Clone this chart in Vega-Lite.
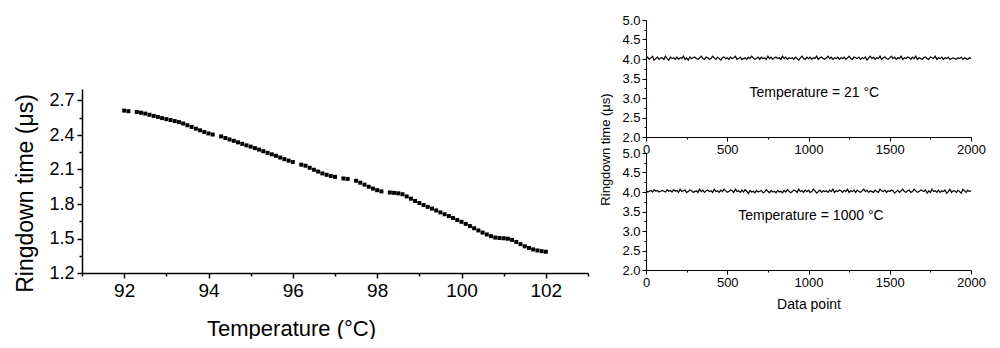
{
  "$schema": "https://vega.github.io/schema/vega-lite/v6.json",
  "padding": {"left": 13, "top": 14, "right": 5, "bottom": 0},
  "background": "white",
  "config": {
    "font": "Liberation Sans",
    "view": {"stroke": null},
    "axis": {"grid": false, "domainColor": "black", "tickColor": "black", "labelColor": "black", "titleColor": "black", "titleFontWeight": "normal", "labelFlush": false, "labelOverlap": false}
  },
  "datasets": {
    "curve": [
      {"t": 92.0, "r": 2.612}, {"t": 92.1, "r": 2.607}, {"t": 92.3, "r": 2.600}, {"t": 92.4, "r": 2.594}, {"t": 92.5, "r": 2.586},
      {"t": 92.6, "r": 2.576}, {"t": 92.7, "r": 2.566}, {"t": 92.8, "r": 2.557}, {"t": 92.9, "r": 2.547}, {"t": 93.0, "r": 2.538},
      {"t": 93.1, "r": 2.530}, {"t": 93.2, "r": 2.521}, {"t": 93.3, "r": 2.512}, {"t": 93.4, "r": 2.500}, {"t": 93.5, "r": 2.485},
      {"t": 93.6, "r": 2.470}, {"t": 93.7, "r": 2.455}, {"t": 93.8, "r": 2.441}, {"t": 93.9, "r": 2.426}, {"t": 94.0, "r": 2.413},
      {"t": 94.1, "r": 2.404}, {"t": 94.3, "r": 2.388}, {"t": 94.4, "r": 2.374}, {"t": 94.5, "r": 2.361}, {"t": 94.6, "r": 2.349},
      {"t": 94.7, "r": 2.336}, {"t": 94.8, "r": 2.323}, {"t": 94.9, "r": 2.310}, {"t": 95.0, "r": 2.299}, {"t": 95.1, "r": 2.286},
      {"t": 95.2, "r": 2.273}, {"t": 95.3, "r": 2.259}, {"t": 95.4, "r": 2.245}, {"t": 95.5, "r": 2.232}, {"t": 95.6, "r": 2.219},
      {"t": 95.7, "r": 2.204}, {"t": 95.8, "r": 2.190}, {"t": 95.9, "r": 2.177}, {"t": 96.0, "r": 2.165}, {"t": 96.2, "r": 2.142},
      {"t": 96.3, "r": 2.133}, {"t": 96.4, "r": 2.115}, {"t": 96.5, "r": 2.098}, {"t": 96.6, "r": 2.082}, {"t": 96.7, "r": 2.066},
      {"t": 96.8, "r": 2.054}, {"t": 96.9, "r": 2.044}, {"t": 97.0, "r": 2.036}, {"t": 97.2, "r": 2.022}, {"t": 97.3, "r": 2.018},
      {"t": 97.5, "r": 2.002}, {"t": 97.6, "r": 1.985}, {"t": 97.7, "r": 1.968}, {"t": 97.8, "r": 1.950}, {"t": 97.9, "r": 1.934},
      {"t": 98.0, "r": 1.920}, {"t": 98.1, "r": 1.910}, {"t": 98.3, "r": 1.900}, {"t": 98.4, "r": 1.897}, {"t": 98.5, "r": 1.893},
      {"t": 98.6, "r": 1.885}, {"t": 98.7, "r": 1.866}, {"t": 98.8, "r": 1.846}, {"t": 98.9, "r": 1.826}, {"t": 99.0, "r": 1.808},
      {"t": 99.1, "r": 1.791}, {"t": 99.2, "r": 1.775}, {"t": 99.3, "r": 1.760}, {"t": 99.4, "r": 1.744}, {"t": 99.5, "r": 1.727},
      {"t": 99.6, "r": 1.711}, {"t": 99.7, "r": 1.695}, {"t": 99.8, "r": 1.678}, {"t": 99.9, "r": 1.661}, {"t": 100.0, "r": 1.645},
      {"t": 100.1, "r": 1.627}, {"t": 100.2, "r": 1.608}, {"t": 100.3, "r": 1.589}, {"t": 100.4, "r": 1.570}, {"t": 100.5, "r": 1.552},
      {"t": 100.6, "r": 1.535}, {"t": 100.7, "r": 1.520}, {"t": 100.8, "r": 1.508}, {"t": 100.9, "r": 1.504}, {"t": 101.0, "r": 1.502},
      {"t": 101.1, "r": 1.498}, {"t": 101.2, "r": 1.488}, {"t": 101.3, "r": 1.470}, {"t": 101.4, "r": 1.451}, {"t": 101.5, "r": 1.432},
      {"t": 101.6, "r": 1.417}, {"t": 101.7, "r": 1.405}, {"t": 101.8, "r": 1.396}, {"t": 101.9, "r": 1.390}, {"t": 102.0, "r": 1.385}
    ],
    "noise": [
      {"i":0,"a":4.01,"b":4.04},{"i":10,"a":4.05,"b":4.00},{"i":20,"a":3.99,"b":4.02},{"i":30,"a":4.03,"b":4.04},{"i":40,"a":4.07,"b":4.00},{"i":50,"a":3.97,"b":4.06},{"i":60,"a":4.01,"b":4.02},{"i":70,"a":4.05,"b":4.04},{"i":80,"a":3.99,"b":4.00},{"i":90,"a":4.03,"b":4.02},
      {"i":100,"a":4.03,"b":4.04},{"i":110,"a":3.99,"b":4.02},{"i":120,"a":4.07,"b":4.00},{"i":130,"a":4.01,"b":4.06},{"i":140,"a":3.97,"b":4.02},{"i":150,"a":4.05,"b":4.04},{"i":160,"a":4.01,"b":4.00},{"i":170,"a":4.03,"b":4.06},{"i":180,"a":3.99,"b":4.02},{"i":190,"a":4.05,"b":4.04},
      {"i":200,"a":3.99,"b":3.99},{"i":210,"a":4.03,"b":4.07},{"i":220,"a":4.01,"b":4.01},{"i":230,"a":4.07,"b":4.03},{"i":240,"a":3.99,"b":4.05},{"i":250,"a":4.03,"b":3.99},{"i":260,"a":3.97,"b":4.01},{"i":270,"a":4.05,"b":4.05},{"i":280,"a":4.01,"b":4.03},{"i":290,"a":4.03,"b":3.99},
      {"i":300,"a":4.05,"b":4.01},{"i":310,"a":4.01,"b":4.03},{"i":320,"a":3.99,"b":3.99},{"i":330,"a":4.03,"b":4.07},{"i":340,"a":4.07,"b":4.01},{"i":350,"a":4.01,"b":4.05},{"i":360,"a":3.99,"b":3.99},{"i":370,"a":4.05,"b":4.03},{"i":380,"a":4.03,"b":4.05},{"i":390,"a":3.99,"b":4.01},
      {"i":400,"a":4.01,"b":4.03},{"i":410,"a":4.07,"b":3.99},{"i":420,"a":4.03,"b":4.07},{"i":430,"a":3.99,"b":4.01},{"i":440,"a":4.05,"b":4.03},{"i":450,"a":4.01,"b":3.99},{"i":460,"a":3.97,"b":4.05},{"i":470,"a":4.03,"b":4.01},{"i":480,"a":4.05,"b":4.07},{"i":490,"a":4.01,"b":4.03},
      {"i":500,"a":4.03,"b":3.99},{"i":510,"a":3.99,"b":4.01},{"i":520,"a":4.05,"b":4.05},{"i":530,"a":4.01,"b":4.03},{"i":540,"a":4.03,"b":3.99},{"i":550,"a":4.07,"b":4.07},{"i":560,"a":3.99,"b":4.01},{"i":570,"a":4.01,"b":4.03},{"i":580,"a":4.05,"b":3.99},{"i":590,"a":3.99,"b":4.05},
      {"i":600,"a":4.01,"b":4.00},{"i":610,"a":4.03,"b":4.06},{"i":620,"a":3.99,"b":4.02},{"i":630,"a":4.05,"b":3.96},{"i":640,"a":4.01,"b":4.04},{"i":650,"a":4.07,"b":4.00},{"i":660,"a":4.03,"b":4.02},{"i":670,"a":3.99,"b":3.98},{"i":680,"a":4.01,"b":4.04},{"i":690,"a":4.05,"b":4.00},
      {"i":700,"a":3.99,"b":4.02},{"i":710,"a":4.05,"b":4.04},{"i":720,"a":4.01,"b":3.98},{"i":730,"a":4.03,"b":4.00},{"i":740,"a":3.99,"b":4.06},{"i":750,"a":4.07,"b":4.02},{"i":760,"a":4.01,"b":3.98},{"i":770,"a":4.05,"b":4.04},{"i":780,"a":3.99,"b":4.00},{"i":790,"a":4.03,"b":4.02},
      {"i":800,"a":4.05,"b":3.98},{"i":810,"a":4.01,"b":4.04},{"i":820,"a":4.03,"b":4.00},{"i":830,"a":3.99,"b":4.02},{"i":840,"a":4.07,"b":3.98},{"i":850,"a":4.01,"b":4.04},{"i":860,"a":4.05,"b":4.00},{"i":870,"a":3.99,"b":4.06},{"i":880,"a":4.03,"b":4.02},{"i":890,"a":4.01,"b":3.98},
      {"i":900,"a":4.03,"b":4.01},{"i":910,"a":3.99,"b":4.05},{"i":920,"a":4.05,"b":4.03},{"i":930,"a":4.01,"b":3.99},{"i":940,"a":3.97,"b":4.07},{"i":950,"a":4.03,"b":4.01},{"i":960,"a":4.07,"b":4.03},{"i":970,"a":4.01,"b":3.99},{"i":980,"a":3.99,"b":4.05},{"i":990,"a":4.05,"b":4.01},
      {"i":1000,"a":4.01,"b":4.05},{"i":1010,"a":4.05,"b":3.99},{"i":1020,"a":3.99,"b":4.01},{"i":1030,"a":4.03,"b":4.07},{"i":1040,"a":4.01,"b":4.03},{"i":1050,"a":4.07,"b":3.97},{"i":1060,"a":3.99,"b":4.01},{"i":1070,"a":4.03,"b":4.05},{"i":1080,"a":4.05,"b":3.99},{"i":1090,"a":4.01,"b":4.03},
      {"i":1100,"a":3.99,"b":4.01},{"i":1110,"a":4.03,"b":4.03},{"i":1120,"a":4.07,"b":3.99},{"i":1130,"a":4.01,"b":4.05},{"i":1140,"a":4.05,"b":4.01},{"i":1150,"a":3.99,"b":4.07},{"i":1160,"a":4.03,"b":3.99},{"i":1170,"a":4.01,"b":4.03},{"i":1180,"a":4.05,"b":4.01},{"i":1190,"a":3.99,"b":4.05},
      {"i":1200,"a":4.03,"b":4.03},{"i":1210,"a":4.01,"b":3.99},{"i":1220,"a":4.05,"b":4.05},{"i":1230,"a":3.99,"b":4.01},{"i":1240,"a":4.03,"b":4.07},{"i":1250,"a":4.07,"b":3.99},{"i":1260,"a":4.01,"b":4.03},{"i":1270,"a":3.99,"b":4.01},{"i":1280,"a":4.05,"b":4.05},{"i":1290,"a":4.03,"b":3.99},
      {"i":1300,"a":4.01,"b":4.05},{"i":1310,"a":4.05,"b":4.01},{"i":1320,"a":3.99,"b":3.99},{"i":1330,"a":4.03,"b":4.03},{"i":1340,"a":4.01,"b":4.07},{"i":1350,"a":4.05,"b":4.01},{"i":1360,"a":3.97,"b":4.05},{"i":1370,"a":4.03,"b":3.99},{"i":1380,"a":4.07,"b":4.03},{"i":1390,"a":4.01,"b":4.01},
      {"i":1400,"a":4.05,"b":3.99},{"i":1410,"a":3.99,"b":4.05},{"i":1420,"a":4.03,"b":4.01},{"i":1430,"a":4.01,"b":3.99},{"i":1440,"a":4.07,"b":4.07},{"i":1450,"a":3.99,"b":4.03},{"i":1460,"a":4.03,"b":4.01},{"i":1470,"a":4.05,"b":4.05},{"i":1480,"a":4.01,"b":3.99},{"i":1490,"a":3.99,"b":4.03},
      {"i":1500,"a":4.03,"b":4.01},{"i":1510,"a":4.07,"b":4.05},{"i":1520,"a":4.01,"b":4.03},{"i":1530,"a":4.05,"b":3.97},{"i":1540,"a":3.99,"b":4.01},{"i":1550,"a":4.03,"b":4.05},{"i":1560,"a":4.01,"b":3.99},{"i":1570,"a":4.07,"b":4.03},{"i":1580,"a":3.99,"b":4.07},{"i":1590,"a":4.03,"b":4.01},
      {"i":1600,"a":4.01,"b":3.99},{"i":1610,"a":4.05,"b":4.03},{"i":1620,"a":4.03,"b":4.05},{"i":1630,"a":3.99,"b":3.99},{"i":1640,"a":4.05,"b":4.01},{"i":1650,"a":4.01,"b":4.07},{"i":1660,"a":4.07,"b":4.03},{"i":1670,"a":3.99,"b":3.99},{"i":1680,"a":4.03,"b":4.01},{"i":1690,"a":4.01,"b":4.05},
      {"i":1700,"a":3.99,"b":4.03},{"i":1710,"a":4.03,"b":4.01},{"i":1720,"a":4.05,"b":4.05},{"i":1730,"a":4.01,"b":3.97},{"i":1740,"a":3.99,"b":4.03},{"i":1750,"a":4.05,"b":3.99},{"i":1760,"a":4.03,"b":4.07},{"i":1770,"a":4.01,"b":4.01},{"i":1780,"a":4.07,"b":4.03},{"i":1790,"a":3.99,"b":3.99},
      {"i":1800,"a":4.03,"b":4.05},{"i":1810,"a":4.01,"b":3.99},{"i":1820,"a":4.05,"b":4.03},{"i":1830,"a":3.99,"b":4.01},{"i":1840,"a":4.03,"b":4.05},{"i":1850,"a":4.01,"b":3.97},{"i":1860,"a":4.05,"b":4.01},{"i":1870,"a":3.99,"b":4.07},{"i":1880,"a":4.01,"b":3.99},{"i":1890,"a":4.03,"b":4.03},
      {"i":1900,"a":4.01,"b":4.03},{"i":1910,"a":3.99,"b":3.99},{"i":1920,"a":4.03,"b":4.05},{"i":1930,"a":4.01,"b":4.01},{"i":1940,"a":4.05,"b":3.97},{"i":1950,"a":3.99,"b":4.07},{"i":1960,"a":4.03,"b":4.03},{"i":1970,"a":4.01,"b":3.99},{"i":1980,"a":3.99,"b":4.05},{"i":1990,"a":4.03,"b":4.01},
      {"i":2000,"a":4.01,"b":4.03}
    ]
  },
  "spacing": 10,
  "hconcat": [
    {
      "bounds": "flush",
      "spacing": 0,
      "vconcat": [
        {"width": 506, "height": 69, "view": {"fill": "white", "stroke": null}, "data": {"values": []}, "mark": "point"},
        {
          "width": 506,
          "height": 184,
          "data": {"name": "curve"},
          "mark": {"type": "square", "filled": true, "color": "black", "size": 16, "opacity": 1},
          "encoding": {
            "x": {
              "field": "t", "type": "quantitative",
              "scale": {"domain": [91, 103], "nice": false, "zero": false},
              "axis": {
                "title": "Temperature (°C)",
                "values": [91, 92, 93, 94, 95, 96, 97, 98, 99, 100, 101, 102, 103],
                "labelExpr": "datum.value % 2 === 0 ? datum.label : ''",
                "tickSize": {"condition": {"test": "datum.value % 2 === 0", "value": 5}, "value": 3},
                "labelFontSize": 19, "labelPadding": 3,
                "titleFontSize": 22, "titleX": 209, "titleY": 62, "titleBaseline": "alphabetic", "titleAlign": "center",
                "domainWidth": 1.5, "tickWidth": 1.5
              }
            },
            "y": {
              "field": "r", "type": "quantitative",
              "scale": {"domain": [1.2, 2.8], "nice": false, "zero": false},
              "axis": {
                "title": "Ringdown time (μs)",
                "values": [1.2, 1.35, 1.5, 1.65, 1.8, 1.95, 2.1, 2.25, 2.4, 2.55, 2.7],
                "labelExpr": "round(datum.value * 100) % 30 === 0 ? format(datum.value, '.1f') : ''",
                "tickSize": {"condition": {"test": "round(datum.value * 100) % 30 === 0", "value": 5}, "value": 3},
                "labelFontSize": 18, "labelPadding": 3,
                "titleFontSize": 23, "titleX": -57, "titleY": 104, "titleAngle": 270, "titleAlign": "center", "titleBaseline": "middle",
                "domainWidth": 1.5, "tickWidth": 1.5
              }
            }
          }
        }
      ]
    },
    {
      "bounds": "flush",
      "spacing": 16,
      "vconcat": [
        {
          "width": 325,
          "height": 117,
          "layer": [
            {
              "data": {"name": "noise"},
              "mark": {"type": "line", "color": "black", "strokeWidth": 1.2},
              "encoding": {
                "x": {
                  "field": "i", "type": "quantitative",
                  "scale": {"domain": [0, 2000], "nice": false},
                  "axis": {
                    "title": null,
                    "values": [0, 250, 500, 750, 1000, 1250, 1500, 1750, 2000],
                    "labelExpr": "datum.value % 500 === 0 ? datum.label : ''",
                    "format": "d",
                    "tickSize": {"condition": {"test": "datum.value % 500 === 0", "value": 4}, "value": 2},
                    "labelFontSize": 13, "labelPadding": 2
                  }
                },
                "y": {
                  "field": "a", "type": "quantitative",
                  "scale": {"domain": [2, 5], "nice": false, "zero": false},
                  "axis": {
                    "title": "Ringdown time (μs)",
                    "values": [2, 2.25, 2.5, 2.75, 3, 3.25, 3.5, 3.75, 4, 4.25, 4.5, 4.75, 5],
                    "labelExpr": "round(datum.value * 100) % 50 === 0 ? format(datum.value, '.1f') : ''",
                    "tickSize": {"condition": {"test": "round(datum.value * 100) % 50 === 0", "value": 4}, "value": 2},
                    "labelFontSize": 13, "labelPadding": 2,
                    "titleFontSize": 13, "titleX": -41, "titleY": 129, "titleAngle": 270, "titleAlign": "center", "titleBaseline": "middle"
                  }
                }
              }
            },
            {
              "data": {"values": [{}]},
              "mark": {"type": "text", "text": "Temperature = 21 °C", "fontSize": 14, "color": "black", "align": "center", "baseline": "middle"},
              "encoding": {
                "x": {
                  "datum": 1036, "type": "quantitative",
                  "axis": {
                    "title": null,
                    "values": [0, 250, 500, 750, 1000, 1250, 1500, 1750, 2000],
                    "labelExpr": "datum.value % 500 === 0 ? datum.label : ''",
                    "format": "d",
                    "tickSize": {"condition": {"test": "datum.value % 500 === 0", "value": 4}, "value": 2},
                    "labelFontSize": 13, "labelPadding": 2
                  }
                },
                "y": {
                  "datum": 3.14, "type": "quantitative",
                  "axis": {
                    "title": "Ringdown time (μs)",
                    "values": [2, 2.25, 2.5, 2.75, 3, 3.25, 3.5, 3.75, 4, 4.25, 4.5, 4.75, 5],
                    "labelExpr": "round(datum.value * 100) % 50 === 0 ? format(datum.value, '.1f') : ''",
                    "tickSize": {"condition": {"test": "round(datum.value * 100) % 50 === 0", "value": 4}, "value": 2},
                    "labelFontSize": 13, "labelPadding": 2,
                    "titleFontSize": 13, "titleX": -41, "titleY": 129, "titleAngle": 270, "titleAlign": "center", "titleBaseline": "middle"
                  }
                }
              }
            }
          ]
        },
        {
          "width": 325,
          "height": 117,
          "layer": [
            {
              "data": {"name": "noise"},
              "mark": {"type": "line", "color": "black", "strokeWidth": 1.2},
              "encoding": {
                "x": {
                  "field": "i", "type": "quantitative",
                  "scale": {"domain": [0, 2000], "nice": false},
                  "axis": {
                    "title": "Data point",
                    "values": [0, 250, 500, 750, 1000, 1250, 1500, 1750, 2000],
                    "labelExpr": "datum.value % 500 === 0 ? datum.label : ''",
                    "format": "d",
                    "tickSize": {"condition": {"test": "datum.value % 500 === 0", "value": 4}, "value": 2},
                    "labelFontSize": 13, "labelPadding": 2,
                    "titleFontSize": 14, "titlePadding": 8
                  }
                },
                "y": {
                  "field": "b", "type": "quantitative",
                  "scale": {"domain": [2, 5], "nice": false, "zero": false},
                  "axis": {
                    "title": null,
                    "values": [2, 2.25, 2.5, 2.75, 3, 3.25, 3.5, 3.75, 4, 4.25, 4.5, 4.75, 5],
                    "labelExpr": "round(datum.value * 100) % 50 === 0 ? format(datum.value, '.1f') : ''",
                    "tickSize": {"condition": {"test": "round(datum.value * 100) % 50 === 0", "value": 4}, "value": 2},
                    "labelFontSize": 13, "labelPadding": 2
                  }
                }
              }
            },
            {
              "data": {"values": [{}]},
              "mark": {"type": "text", "text": "Temperature = 1000 °C", "fontSize": 14, "color": "black", "align": "center", "baseline": "middle"},
              "encoding": {
                "x": {
                  "datum": 1015, "type": "quantitative",
                  "axis": {
                    "title": "Data point",
                    "values": [0, 250, 500, 750, 1000, 1250, 1500, 1750, 2000],
                    "labelExpr": "datum.value % 500 === 0 ? datum.label : ''",
                    "format": "d",
                    "tickSize": {"condition": {"test": "datum.value % 500 === 0", "value": 4}, "value": 2},
                    "labelFontSize": 13, "labelPadding": 2,
                    "titleFontSize": 14, "titlePadding": 8
                  }
                },
                "y": {
                  "datum": 3.38, "type": "quantitative",
                  "axis": {
                    "title": null,
                    "values": [2, 2.25, 2.5, 2.75, 3, 3.25, 3.5, 3.75, 4, 4.25, 4.5, 4.75, 5],
                    "labelExpr": "round(datum.value * 100) % 50 === 0 ? format(datum.value, '.1f') : ''",
                    "tickSize": {"condition": {"test": "round(datum.value * 100) % 50 === 0", "value": 4}, "value": 2},
                    "labelFontSize": 13, "labelPadding": 2
                  }
                }
              }
            }
          ]
        }
      ]
    }
  ]
}
